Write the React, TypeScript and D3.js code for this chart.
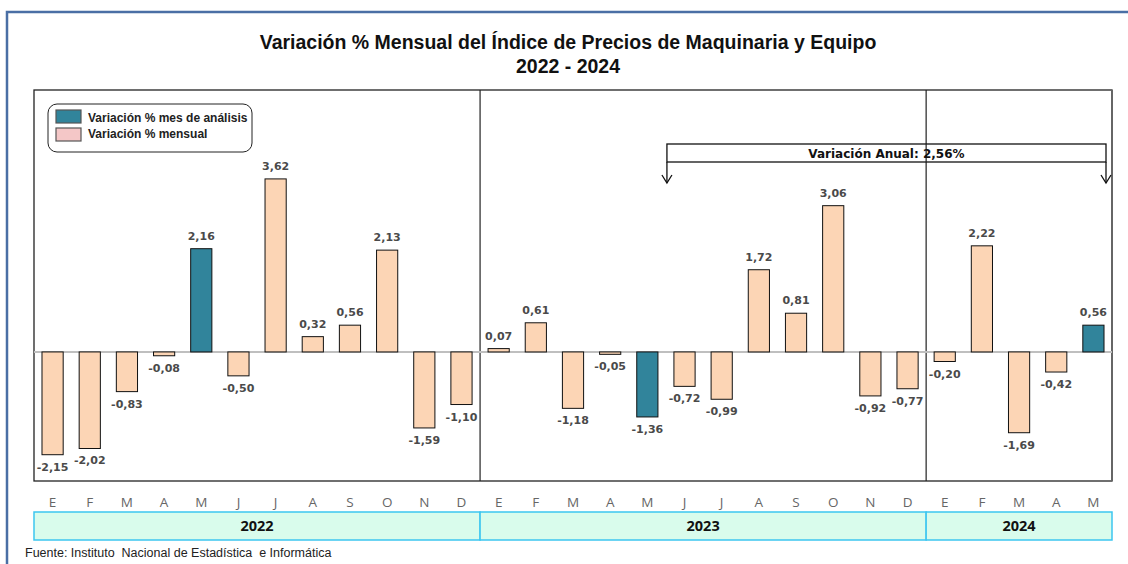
import React, { useEffect, useRef } from "react";
import * as d3 from "d3";

const monthLabels = ["E", "F", "M", "A", "M", "J", "J", "A", "S", "O", "N", "D"];
const years = ["2022", "2023", "2024"];
const values2022 = [-2.15, -2.02, -0.83, -0.08, 2.16, -0.5, 3.62, 0.32, 0.56, 2.13, -1.59, -1.1];
const values2023 = [0.07, 0.61, -1.18, -0.05, -1.36, -0.72, -0.99, 1.72, 0.81, 3.06, -0.92, -0.77];
const values2024 = [-0.2, 2.22, -1.69, -0.42, 0.56];
// month (0-based) of the "mes de análisis" in each year
const highlightMonth = 4;
const annualVariation = "2,56%";

interface Bar {
  key: string;
  month: string;
  year: string;
  value: number;
  highlight: boolean;
}

const App: React.FC = () => {
  const svgRef = useRef<SVGSVGElement>(null);

  useEffect(() => {
    const width = 1128;
    const height = 564;

    const series = [values2022, values2023, values2024];
    const data: Bar[] = [];
    series.forEach((vals, yi) => {
      vals.forEach((v, mi) => {
        data.push({
          key: `${years[yi]}-${mi}`,
          month: monthLabels[mi],
          year: years[yi],
          value: v,
          highlight: mi === highlightMonth,
        });
      });
    });

    const left = 34;
    const right = 1112;
    const top = 90;
    const bottom = 481;

    const x = d3
      .scaleBand<string>()
      .domain(data.map((d) => d.key))
      .range([left, right])
      .paddingInner(0.43)
      .paddingOuter(0.215);
    const step = x.step();
    const boundary = (i: number) => left + i * step;

    const y = d3.scaleLinear().domain([-2.7, 5.48]).range([bottom, top]);

    const svg = d3.select(svgRef.current).attr("width", width).attr("height", height);
    svg.selectAll("*").remove();

    svg.append("rect").attr("width", width).attr("height", height).attr("fill", "#fff");

    // outer frame
    svg
      .append("path")
      .attr("d", `M7,${height} L7,12 L${width},12`)
      .attr("fill", "none")
      .attr("stroke", "#4a6fa5")
      .attr("stroke-width", 2.5);

    // title
    const title = svg
      .append("text")
      .attr("x", 568)
      .attr("text-anchor", "middle")
      .style("font-family", "'Liberation Sans Narrow', 'Liberation Sans', Arial, sans-serif")
      .style("font-weight", "bold")
      .style("font-size", "19.5px")
      .attr("fill", "#111");
    title.append("tspan").attr("x", 568).attr("y", 49).text("Variación % Mensual del Índice de Precios de Maquinaria y Equipo");
    title.append("tspan").attr("x", 568).attr("y", 73).text("2022 - 2024");

    // plot frame
    svg
      .append("rect")
      .attr("x", left)
      .attr("y", top)
      .attr("width", right - left)
      .attr("height", bottom - top)
      .attr("fill", "none")
      .attr("stroke", "#222")
      .attr("stroke-width", 1.3);
    svg
      .append("line")
      .attr("x1", right)
      .attr("x2", right)
      .attr("y1", top)
      .attr("y2", bottom)
      .attr("stroke", "#666")
      .attr("stroke-width", 2);

    // year separators
    [12, 24].forEach((i) => {
      svg
        .append("line")
        .attr("x1", boundary(i))
        .attr("x2", boundary(i))
        .attr("y1", top)
        .attr("y2", bottom)
        .attr("stroke", "#222")
        .attr("stroke-width", 1.2);
    });

    // zero line
    svg
      .append("line")
      .attr("x1", left)
      .attr("x2", right)
      .attr("y1", y(0))
      .attr("y2", y(0))
      .attr("stroke", "#bfbfbf")
      .attr("stroke-width", 2);

    // bars
    svg
      .selectAll(".bar")
      .data(data)
      .enter()
      .append("rect")
      .attr("class", "bar")
      .attr("x", (d) => x(d.key)!)
      .attr("width", x.bandwidth())
      .attr("y", (d) => (d.value >= 0 ? y(d.value) : y(0)))
      .attr("height", (d) => Math.abs(y(d.value) - y(0)))
      .attr("fill", (d) => (d.highlight ? "#31849b" : "#fcd5b5"))
      .attr("stroke", "#111")
      .attr("stroke-width", 1);

    // value labels
    const fmt = (v: number) => v.toFixed(2).replace(".", ",");
    svg
      .selectAll(".lbl")
      .data(data)
      .enter()
      .append("text")
      .attr("class", "lbl")
      .attr("x", (d) => x(d.key)! + x.bandwidth() / 2)
      .attr("y", (d) => (d.value >= 0 ? y(d.value) - 9 : y(d.value) + 16))
      .attr("text-anchor", "middle")
      .style("font-family", "'DejaVu Sans', Verdana, sans-serif")
      .style("font-weight", "bold")
      .style("font-size", "11px")
      .attr("fill", "#4a4a4a")
      .text((d) => fmt(d.value));

    // legend
    const lg = svg.append("g");
    lg.append("rect")
      .attr("x", 48)
      .attr("y", 104)
      .attr("width", 204)
      .attr("height", 48)
      .attr("rx", 9)
      .attr("fill", "#fff")
      .attr("stroke", "#222")
      .attr("stroke-width", 1);
    const legendItems = [
      { label: "Variación % mes de análisis", color: "#31849b" },
      { label: "Variación % mensual", color: "#f4c7c7" },
    ];
    legendItems.forEach((it, i) => {
      lg.append("rect")
        .attr("x", 56)
        .attr("y", 110 + i * 18)
        .attr("width", 25)
        .attr("height", 13)
        .attr("fill", it.color)
        .attr("stroke", "#555")
        .attr("stroke-width", 1.2);
      lg.append("text")
        .attr("x", 88)
        .attr("y", 122 + i * 16)
        .style("font-family", "'Liberation Sans', Arial, sans-serif")
        .style("font-weight", "bold")
        .style("font-size", "12px")
        .attr("fill", "#222")
        .text(it.label);
    });

    // annual variation annotation
    const ax1 = boundary(17) + 1;
    const ax2 = boundary(29) - 6;
    const ann = svg.append("g").attr("stroke", "#111").attr("fill", "none").attr("stroke-width", 1.3);
    ann.append("rect").attr("x", ax1).attr("y", 144).attr("width", ax2 - ax1).attr("height", 18).attr("fill", "#fff");
    [ax1, ax2].forEach((ax) => {
      ann.append("line").attr("x1", ax).attr("x2", ax).attr("y1", 162).attr("y2", 183);
      ann.append("path").attr("d", `M${ax - 5},${175} L${ax},${183} L${ax + 5},${175}`);
    });
    // the 2024 separator runs through the box
    svg
      .append("line")
      .attr("x1", boundary(24))
      .attr("x2", boundary(24))
      .attr("y1", 144)
      .attr("y2", 162)
      .attr("stroke", "#222")
      .attr("stroke-width", 1.2);
    svg
      .append("text")
      .attr("x", (ax1 + ax2) / 2)
      .attr("y", 158)
      .attr("text-anchor", "middle")
      .style("font-family", "'DejaVu Sans', Verdana, sans-serif")
      .style("font-weight", "bold")
      .style("font-size", "12px")
      .attr("fill", "#111")
      .text(`Variación Anual: ${annualVariation}`);

    // month labels
    svg
      .selectAll(".mlbl")
      .data(data)
      .enter()
      .append("text")
      .attr("class", "mlbl")
      .attr("x", (d) => x(d.key)! + x.bandwidth() / 2)
      .attr("y", 507)
      .attr("text-anchor", "middle")
      .style("font-family", "'Open Sans', 'Liberation Sans', sans-serif")
      .style("font-size", "13.5px")
      .attr("fill", "#666")
      .text((d) => d.month);

    // year bands
    const yearSpans = years.map((yr) => {
      const idx = data.map((d, i) => (d.year === yr ? i : -1)).filter((i) => i >= 0);
      return { year: yr, start: idx[0], end: idx[idx.length - 1] + 1 };
    });
    yearSpans.forEach((s) => {
      svg
        .append("rect")
        .attr("x", boundary(s.start))
        .attr("y", 512)
        .attr("width", boundary(s.end) - boundary(s.start))
        .attr("height", 28)
        .attr("fill", "#d9fcec")
        .attr("stroke", "#3cc6f0")
        .attr("stroke-width", 1.5);
      svg
        .append("text")
        .attr("x", (boundary(s.start) + boundary(s.end)) / 2)
        .attr("y", 531)
        .attr("text-anchor", "middle")
        .style("font-family", "'Open Sans', 'Liberation Sans', sans-serif")
        .style("font-weight", "bold")
        .style("font-size", "14.5px")
        .attr("fill", "#111")
        .text(s.year);
    });

    // source
    svg
      .append("text")
      .attr("x", 25)
      .attr("y", 557)
      .style("font-family", "'Liberation Sans', Arial, sans-serif")
      .style("font-size", "12.5px")
      .style("white-space", "pre")
      .attr("fill", "#222")
      .text("Fuente: Instituto  Nacional de Estadística  e Informática");
  }, []);

  return (
    <div style={{ position: "absolute", left: 0, top: 0, width: "1128px", height: "564px" }}>
      <svg ref={svgRef} style={{ display: "block" }}></svg>
    </div>
  );
};

export default App;
